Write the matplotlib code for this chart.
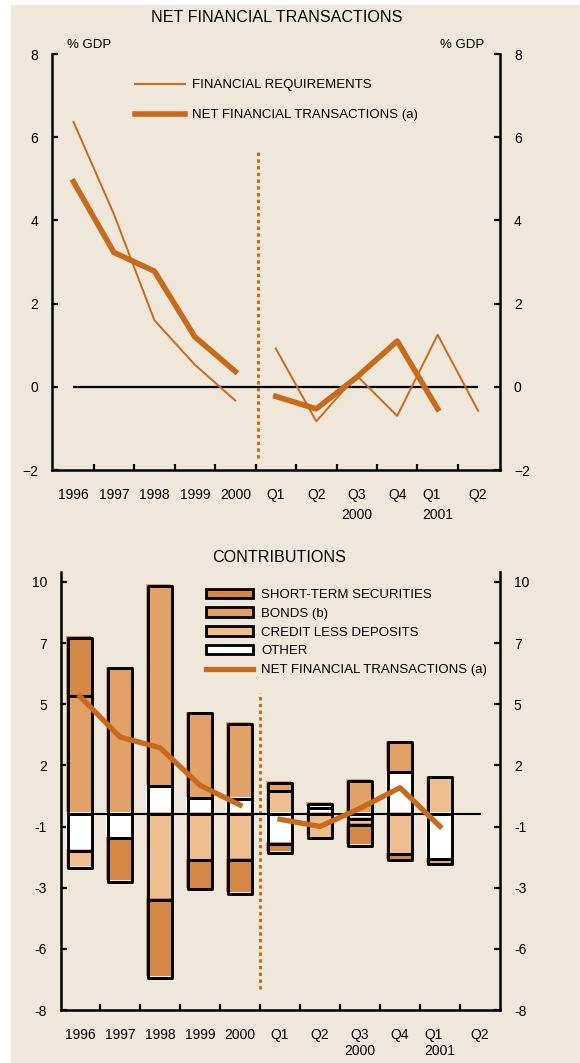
import numpy as np
import matplotlib
matplotlib.use("Agg")
import matplotlib.pyplot as plt
from matplotlib.transforms import ScaledTranslation, blended_transform_factory
from matplotlib.patches import Rectangle, Patch
from matplotlib.lines import Line2D
from matplotlib.ticker import FuncFormatter

plt.rcParams["font.family"] = ["Liberation Sans", "DejaVu Sans"]

# ---- data -------------------------------------------------------------
periods = ["1996", "1997", "1998", "1999", "2000", "Q1", "Q2", "Q3", "Q4", "Q1", "Q2"]
year_labels = ["2000", "2001"]
n_annual = 5  # first five periods are calendar years, the rest quarters

# % of GDP
financial_requirements = [6.37, 4.15, 1.60, 0.53, -0.33, 0.92, -0.83, 0.27, -0.70, 1.25, -0.58]
net_financial_transactions = [4.93, 3.23, 2.78, 1.20, 0.37, -0.23, -0.53, 0.23, 1.10, -0.53]

# contributions to net financial transactions
other = [-1.56, -1.02, 1.15, 0.66, 0.63, -1.25, 0.25, -0.20, 1.75, -1.90]
credit_less_deposits = [-0.70, 0.00, -3.62, -1.96, -1.93, 0.95, -1.02, -0.25, -1.70, 1.54]
bonds = [4.95, 6.13, 8.45, 3.57, 3.15, 0.36, 0.17, 1.40, 1.25, -0.22]
short_term_securities = [2.45, -1.83, -3.27, -1.22, -1.43, -0.38, 0.00, -0.90, -0.25, 0.00]

# ---- style ------------------------------------------------------------
BG = "#EFE7D9"
ORANGE = "#C86A1A"
C_ST = "#D58745"
C_BONDS = "#E2A167"
C_CREDIT = "#EEBE8F"
C_OTHER = "#FFFFFF"
TICK_FS = 10
DOTTED = (0, (1.1, 1.1))
W, H = 580, 1063

fig = plt.figure(figsize=(W / 100, H / 100), dpi=100, facecolor="white")
fig.patches.append(Rectangle((11 / W, 0), 1 - 11 / W, 1 - 5 / H,
                             transform=fig.transFigure, color=BG, zorder=-10))


def style_axes(ax):
    ax.set_facecolor("none")
    ax.spines["top"].set_visible(False)
    for s in ("left", "right", "bottom"):
        ax.spines[s].set_linewidth(1.8)
        ax.spines[s].set_color("black")
    ax.tick_params(axis="y", which="major", direction="in", left=True, right=True,
                   labelleft=True, labelright=True, length=4, width=1.6,
                   pad=10, labelsize=TICK_FS)
    ax.tick_params(axis="x", which="major", length=0, pad=13, labelsize=TICK_FS)
    ax.tick_params(axis="x", which="minor", direction="in", length=4, width=1.6)


def plot_split(ax, values, **kw):
    """Draw annual and quarterly parts of a series as separate segments."""
    v = np.asarray(values, dtype=float)
    xs = np.arange(len(v))
    ax.plot(xs[:n_annual], v[:n_annual], **kw)
    kw.pop("label", None)
    ax.plot(xs[n_annual:], v[n_annual:], **kw)


n = len(periods)
x = np.arange(n)
label_pos = x.astype(float)
label_pos[9] -= 0.15

# ---- top panel: net financial transactions -----------------------------
ax1 = fig.add_axes([52 / W, 1 - 470 / H, 448 / W, 416 / H])
style_axes(ax1)
ax1.set_xlim(-0.53, 10.54)
ax1.set_ylim(-2, 8)
ax1.set_yticks([-2, 0, 2, 4, 6, 8])
ax1.set_xticks(label_pos)
ax1.set_xticklabels(periods)
ax1.set_xticks(np.arange(n - 1) + 0.5, minor=True)

ax1.hlines(0, 0, n - 1, color="black", lw=1.6, zorder=1)
ax1.vlines(4.55, -1.70, 5.72, color=ORANGE, lw=2.2, linestyles=DOTTED, zorder=1)
plot_split(ax1, financial_requirements, color=ORANGE, lw=1.4, zorder=3,
           label="FINANCIAL REQUIREMENTS")
plot_split(ax1, net_financial_transactions, color=ORANGE, lw=4.0, zorder=4,
           label="NET FINANCIAL TRANSACTIONS (a)")

ax1.legend(loc="upper left", bbox_to_anchor=(0.185, 0.94), frameon=False,
           fontsize=9.5, handlelength=3.8, handletextpad=0.55, labelspacing=1.35,
           borderpad=0, borderaxespad=0)

ax1.text(0.033, 1.022, "% GDP", transform=ax1.transAxes, fontsize=9.5,
         ha="left", va="center")
ax1.text(0.964, 1.022, "% GDP", transform=ax1.transAxes, fontsize=9.5,
         ha="right", va="center")
tr1 = blended_transform_factory(ax1.transData, ax1.transAxes)
for xp, lab in zip([7, 9], year_labels):
    ax1.text(xp, -0.108, lab, transform=tr1, fontsize=TICK_FS, ha="center", va="center")

fig.text(277 / W, 1 - 17 / H, "NET FINANCIAL TRANSACTIONS", fontsize=11.6,
         ha="center", va="center")

# ---- bottom panel: contributions ---------------------------------------
ax2 = fig.add_axes([61 / W, 1 - 1010 / H, 439 / W, 438 / H])
style_axes(ax2)
ax2.set_xlim(-0.475, 10.5)
ax2.set_ylim(-8.25, 10.17)
yt = np.linspace(9.75, -8.25, 8)
ax2.set_yticks(yt)
ax2.yaxis.set_major_formatter(FuncFormatter(lambda v, p: f"{v:.0f}"))
ax2.set_xticks(label_pos)
ax2.set_xticklabels(periods)
ax2.set_xticks(np.arange(n - 1) + 0.5, minor=True)

xb = np.arange(len(other))
bar_w = 0.62
fill_tr = ax2.transData + ScaledTranslation(-0.015, 0.015, fig.dpi_scale_trans)
series = [(other, C_OTHER), (credit_less_deposits, C_CREDIT),
          (bonds, C_BONDS), (short_term_securities, C_ST)]
pos_base = np.zeros(len(xb))
neg_base = np.zeros(len(xb))
for vals, col in series:
    v = np.asarray(vals, dtype=float)
    bottom = np.where(v >= 0, pos_base, neg_base)
    m = v != 0
    ax2.bar(xb[m], v[m], bottom=bottom[m], width=bar_w, color=col,
            edgecolor="none", transform=fill_tr, zorder=2)
    ax2.bar(xb[m], v[m], bottom=bottom[m], width=bar_w, fill=False,
            edgecolor="black", linewidth=2.1, joinstyle="round", zorder=3)
    pos_base = pos_base + np.where(v > 0, v, 0)
    neg_base = neg_base + np.where(v < 0, v, 0)

ax2.hlines(0, -0.32, n - 1 + 0.02, color="black", lw=1.5, zorder=4)
ax2.vlines(4.5, -7.36, 5.09, color=ORANGE, lw=2.2, linestyles=DOTTED, zorder=1)
plot_split(ax2, net_financial_transactions, color=ORANGE, lw=3.8, zorder=5)

handles = [Patch(facecolor=C_ST, edgecolor="black", linewidth=2, joinstyle="round"),
           Patch(facecolor=C_BONDS, edgecolor="black", linewidth=2, joinstyle="round"),
           Patch(facecolor=C_CREDIT, edgecolor="black", linewidth=2, joinstyle="round"),
           Patch(facecolor=C_OTHER, edgecolor="black", linewidth=2, joinstyle="round"),
           Line2D([], [], color=ORANGE, lw=3.8)]
labels = ["SHORT-TERM SECURITIES", "BONDS (b)", "CREDIT LESS DEPOSITS", "OTHER",
          "NET FINANCIAL TRANSACTIONS (a)"]
ax2.legend(handles, labels, loc="upper left", bbox_to_anchor=(0.33, 0.962),
           frameon=False, fontsize=9.5, handlelength=3.6, handleheight=0.7,
           handletextpad=0.6, labelspacing=0.5, borderpad=0, borderaxespad=0)

tr2 = blended_transform_factory(ax2.transData, ax2.transAxes)
for xp, lab in zip([7, 9], year_labels):
    ax2.text(xp, -0.094, lab, transform=tr2, fontsize=TICK_FS, ha="center", va="center")

fig.text(279 / W, 1 - 557 / H, "CONTRIBUTIONS", fontsize=11.6, ha="center", va="center")

fig.savefig("out.png", dpi=100, facecolor=fig.get_facecolor())
